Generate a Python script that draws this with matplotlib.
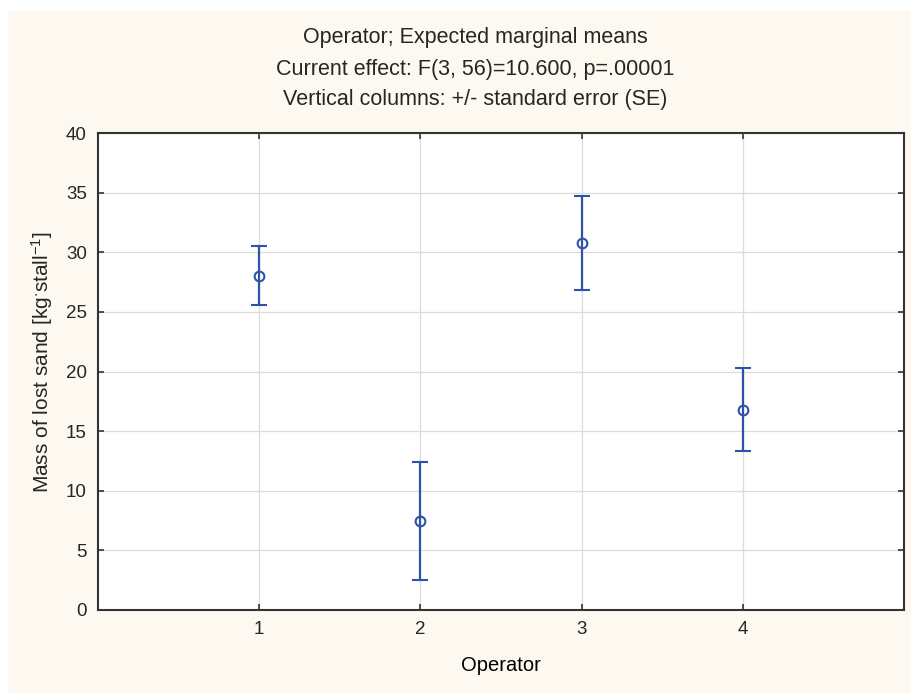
import matplotlib
matplotlib.use("Agg")
import matplotlib.pyplot as plt
from matplotlib.patches import Rectangle

plt.rcParams['font.family'] = ['Liberation Sans', 'DejaVu Sans']
plt.rcParams['mathtext.default'] = 'regular'
plt.rcParams['text.color'] = '#262626'

# expected marginal means +/- SE
operators = [1, 2, 3, 4]
means = [28.05, 7.5, 30.8, 16.8]
se = [2.45, 4.95, 3.95, 3.5]

blue = '#2d52a8'
cream = '#fdf9f0'

fig = plt.figure(figsize=(9.12, 6.93), dpi=100)
fig.patch.set_facecolor('white')
fig.patches.append(Rectangle((8 / 912, 0), 1, 1 - 11 / 693, transform=fig.transFigure,
                             facecolor=cream, edgecolor='none', zorder=-10))

ax = fig.add_axes([98 / 912, 1 - 610 / 693, 806 / 912, 477 / 693])
ax.set_facecolor('white')

ax.errorbar(operators, means, yerr=se, fmt='o', color=blue, mfc='none', mec=blue,
            ms=7, mew=1.5, elinewidth=1.6, capsize=6, capthick=1.6, zorder=3)

ax.set_xlim(0, 5)
ax.set_ylim(0, 40)
ax.set_xticks(operators)
ax.set_yticks(range(0, 41, 5))
ax.grid(True, color='#dcdcdc', linewidth=0.9)
ax.set_axisbelow(True)

ax.tick_params(direction='in', length=4, width=1.2, color='#333333', labelsize=13.5,
               labelcolor='#262626', top=True, right=True, labeltop=False,
               labelright=False, pad=8)
for s in ax.spines.values():
    s.set_color('#333333')
    s.set_linewidth(1.5)

ax.set_xlabel('Operator', fontsize=14.5, labelpad=13)
fig.text(42 / 912, 1 - 362 / 693, r'Mass of lost sand [kg$^{\cdot}$stall$^{-1}$]',
         rotation=90, ha='center', va='center', fontsize=15)

titles = ['Operator; Expected marginal means',
          'Current effect: F(3, 56)=10.600, p=.00001',
          'Vertical columns: +/- standard error (SE)']
for i, t in enumerate(titles):
    fig.text(475 / 912, 1 - (38 + 31 * i) / 693, t, ha='center', va='center', fontsize=15.5)

fig.savefig('out.png', dpi=100, facecolor=fig.get_facecolor())
